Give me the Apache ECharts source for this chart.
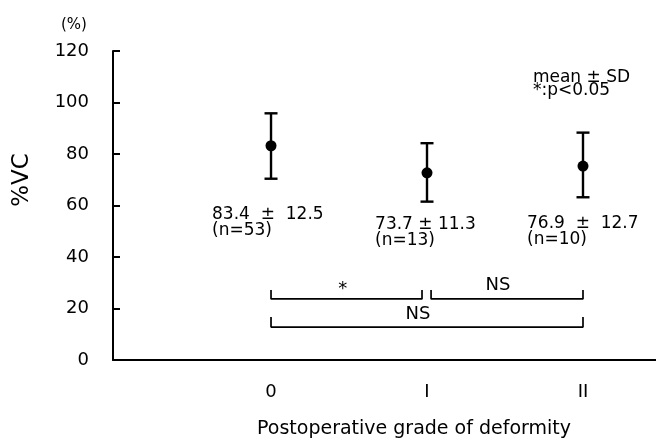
<!DOCTYPE html>
<html>
<head>
<meta charset="utf-8">
<script src="https://cdn.jsdelivr.net/npm/echarts@6/dist/echarts.min.js"></script>
<style>
html,body{margin:0;padding:0;background:#fff;}
#chart{width:656px;height:439px;}
</style>
</head>
<body>
<div id="chart"></div>
<script>
// ---- data ----
var categories = ['0', 'I', 'II'];
var means = [83.2, 72.7, 75.3];
var upper = [95.8, 84.2, 88.3];
var lower = [70.4, 61.5, 63.2];
var statText = ['83.4  \u00B1  12.5', '73.7 \u00B1 11.3', '76.9  \u00B1  12.7'];
var nText = ['(n=53)', '(n=13)', '(n=10)'];
var yTicks = [0, 20, 40, 60, 80, 100, 120];
// brackets: [fromCategory, toCategory, lineLevel, endLevel, text]
var brackets = [
  [0, 0.968, 23.7, 27.2, '*'],
  [1.026, 2, 23.7, 27.2, 'NS'],
  [0, 2, 12.8, 16.7, 'NS']
];

var FONT = 'DejaVu Sans';

var errData = categories.map(function (c, i) { return [i, lower[i], upper[i]]; });
var meanData = categories.map(function (c, i) { return [i, means[i]]; });

// annotation anchor positions (in data coordinates)
var statAnchors = [[-0.378, 59.6], [0.667, 55.7], [1.641, 56.1]];
var bracketTextPos = [[0.46, 27.6], [1.455, 28.9], [0.942, 17.6]];
var legendAnchor = [1.679, 112.9];

var series = [];
brackets.forEach(function (b) {
  series.push({
    type: 'line',
    data: [[b[0], b[3]], [b[0], b[2]], [b[1], b[2]], [b[1], b[3]]],
    symbol: 'none',
    lineStyle: { color: '#000', width: 1.7 },
    silent: true,
    animation: false,
    z: 2
  });
});
series.push({
  type: 'custom',
  data: errData,
  animation: false,
  renderItem: function (params, api) {
    var x = api.value(0);
    var lo = api.coord([x, api.value(1)]);
    var hi = api.coord([x, api.value(2)]);
    var w = 6.5;
    var st = { stroke: '#000', lineWidth: 2.4 };
    return {
      type: 'group',
      children: [
        { type: 'line', shape: { x1: lo[0], y1: lo[1], x2: hi[0], y2: hi[1] }, style: st },
        { type: 'line', shape: { x1: lo[0] - w, y1: lo[1], x2: lo[0] + w, y2: lo[1] }, style: st },
        { type: 'line', shape: { x1: hi[0] - w, y1: hi[1], x2: hi[0] + w, y2: hi[1] }, style: st }
      ]
    };
  },
  encode: { x: 0, y: [1, 2] },
  z: 3
});
series.push({
  type: 'scatter',
  data: meanData,
  symbol: 'circle',
  symbolSize: 11,
  itemStyle: { color: '#000', opacity: 1 },
  animation: false,
  z: 4
});

var chart = echarts.init(document.getElementById('chart'), null, { renderer: 'canvas' });
chart.setOption({
  backgroundColor: '#fff',
  animation: false,
  grid: { left: 113, right: 0, top: 51, bottom: 79, containLabel: false },
  xAxis: {
    type: 'value',
    min: -1.013,
    max: 2.468,
    axisLine: { show: true, onZero: false, lineStyle: { color: '#000', width: 2 } },
    axisTick: { show: false },
    splitLine: { show: false },
    axisLabel: {
      customValues: [0, 1, 2],
      formatter: function (v) { return categories[Math.round(v)]; },
      color: '#000',
      fontFamily: FONT,
      fontSize: 18,
      margin: 23
    }
  },
  yAxis: {
    type: 'value',
    min: 0,
    max: 120,
    interval: 20,
    axisLine: { show: true, onZero: false, lineStyle: { color: '#000', width: 2 } },
    axisTick: { show: true, inside: true, length: 7, lineStyle: { color: '#000', width: 2 } },
    splitLine: { show: false },
    axisLabel: {
      formatter: function (v) { return yTicks.indexOf(v) >= 0 ? String(v) : ''; },
      color: '#000',
      fontFamily: FONT,
      fontSize: 18,
      margin: 24
    }
  },
  series: series
});

// text annotations placed through the chart's own coordinate conversion
function px(p) { return chart.convertToPixel({ gridIndex: 0 }, p); }
var g = [
  { type: 'text', left: 61, top: 18, style: { text: '(%)', font: '15px "DejaVu Sans"', fill: '#000' } },
  { type: 'text', x: 22, y: 180, rotation: Math.PI / 2,
    style: { text: '%VC', font: '23px "DejaVu Sans"', fill: '#000', align: 'center', verticalAlign: 'middle' } },
  { type: 'text', left: 257, top: 420, style: { text: 'Postoperative grade of deformity', font: '19px "DejaVu Sans"', fill: '#000' } }
];
statAnchors.forEach(function (a, i) {
  var p = px(a);
  g.push({ type: 'text', x: p[0], y: p[1], style: { text: statText[i], font: '17px "DejaVu Sans"', fill: '#000', align: 'left', verticalAlign: 'top' } });
  g.push({ type: 'text', x: p[0], y: p[1] + 16, style: { text: nText[i], font: '17px "DejaVu Sans"', fill: '#000', align: 'left', verticalAlign: 'top' } });
});
bracketTextPos.forEach(function (a, i) {
  var p = px(a);
  g.push({ type: 'text', x: p[0], y: p[1], style: { text: brackets[i][4], font: '18px "DejaVu Sans"', fill: '#000', align: 'center', verticalAlign: 'middle' } });
});
var lp = px(legendAnchor);
g.push({ type: 'text', x: lp[0], y: lp[1], style: { text: 'mean \u00B1 SD', font: '17px "DejaVu Sans"', fill: '#000', align: 'left', verticalAlign: 'top' } });
g.push({ type: 'text', x: lp[0], y: lp[1] + 13, style: { text: '*:p<0.05', font: '17px "DejaVu Sans"', fill: '#000', align: 'left', verticalAlign: 'top' } });
chart.setOption({ graphic: g });
</script>
</body>
</html>
